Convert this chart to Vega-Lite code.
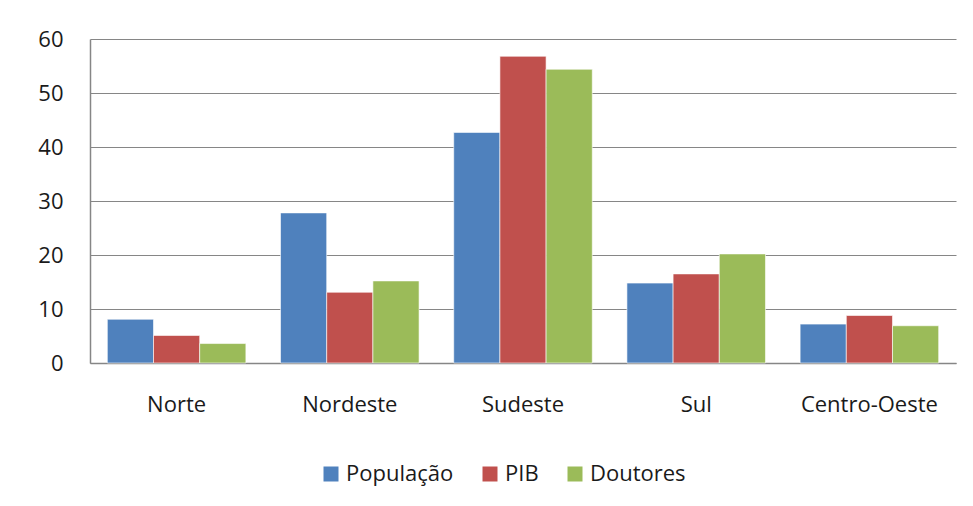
{
  "$schema": "https://vega.github.io/schema/vega-lite/v6.json",
  "width": 866,
  "height": 324,
  "autosize": {"type": "none"},
  "padding": {"left": 90, "top": 39, "right": 17, "bottom": 143},
  "background": "white",
  "data": {
    "values": [
      {"regiao": "Norte", "serie": "População", "valor": 8.1},
      {"regiao": "Norte", "serie": "PIB", "valor": 5.1},
      {"regiao": "Norte", "serie": "Doutores", "valor": 3.6},
      {"regiao": "Nordeste", "serie": "População", "valor": 27.8},
      {"regiao": "Nordeste", "serie": "PIB", "valor": 13.1},
      {"regiao": "Nordeste", "serie": "Doutores", "valor": 15.2},
      {"regiao": "Sudeste", "serie": "População", "valor": 42.7},
      {"regiao": "Sudeste", "serie": "PIB", "valor": 56.8},
      {"regiao": "Sudeste", "serie": "Doutores", "valor": 54.4},
      {"regiao": "Sul", "serie": "População", "valor": 14.8},
      {"regiao": "Sul", "serie": "PIB", "valor": 16.5},
      {"regiao": "Sul", "serie": "Doutores", "valor": 20.2},
      {"regiao": "Centro-Oeste", "serie": "População", "valor": 7.2},
      {"regiao": "Centro-Oeste", "serie": "PIB", "valor": 8.8},
      {"regiao": "Centro-Oeste", "serie": "Doutores", "valor": 6.9}
    ]
  },
  "mark": {"type": "bar", "stroke": "white", "strokeWidth": 0.6},
  "encoding": {
    "x": {
      "field": "regiao",
      "type": "nominal",
      "sort": ["Norte", "Nordeste", "Sudeste", "Sul", "Centro-Oeste"],
      "scale": {"paddingInner": 0.2, "paddingOuter": 0.1},
      "axis": {
        "title": null,
        "labelAngle": 0,
        "labelFont": "Open Sans",
        "labelFontSize": 22,
        "labelColor": "#1a1a1a",
        "labelPadding": 31,
        "ticks": false,
        "domainColor": "#868686",
        "domainWidth": 1.5,
        "grid": false
      }
    },
    "xOffset": {
      "field": "serie",
      "type": "nominal",
      "sort": ["População", "PIB", "Doutores"],
      "scale": {"paddingInner": 0, "paddingOuter": 0}
    },
    "y": {
      "field": "valor",
      "type": "quantitative",
      "scale": {"domain": [0, 60], "nice": false},
      "axis": {
        "title": null,
        "values": [0, 10, 20, 30, 40, 50, 60],
        "labelFont": "Open Sans",
        "labelFontSize": 22,
        "labelColor": "#1a1a1a",
        "labelPadding": 27,
        "ticks": false,
        "domainColor": "#868686",
        "domainWidth": 1.5,
        "grid": true,
        "gridColor": "#868686",
        "gridWidth": 1.2
      }
    },
    "color": {
      "field": "serie",
      "type": "nominal",
      "sort": ["População", "PIB", "Doutores"],
      "scale": {"domain": ["População", "PIB", "Doutores"], "range": ["#4F81BD", "#C0504D", "#9BBB59"]},
      "legend": {
        "title": null,
        "orient": "none",
        "direction": "horizontal",
        "legendX": 230,
        "legendY": 424,
        "symbolType": "square",
        "symbolSize": 225,
        "symbolStrokeWidth": 0,
        "labelFont": "Open Sans",
        "labelFontSize": 22,
        "labelColor": "#1a1a1a",
        "columnPadding": 25,
        "labelOffset": 4
      }
    }
  },
  "config": {"view": {"stroke": null}}
}
